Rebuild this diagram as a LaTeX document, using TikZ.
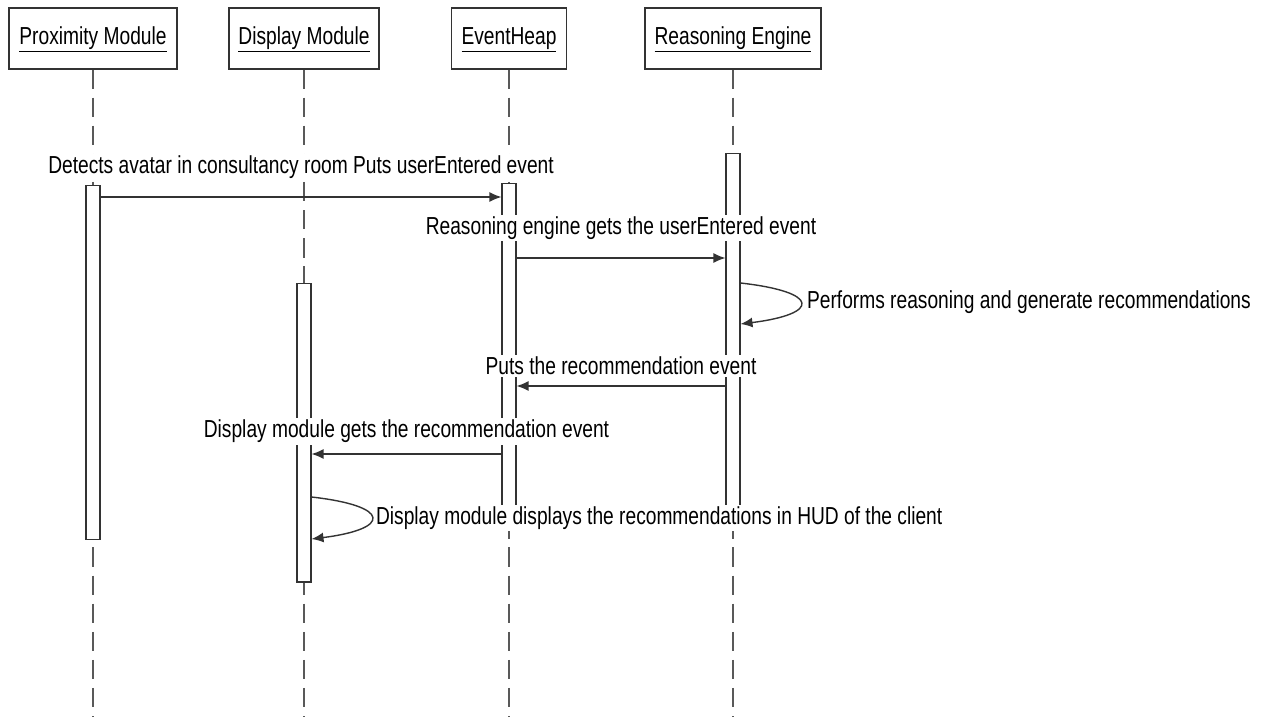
\documentclass[tikz,border=0pt]{standalone}
\usepackage{fontspec}
\setmainfont[FakeStretch=0.78]{Liberation Sans}
\usepackage{xcolor}
\usetikzlibrary{arrows.meta,positioning,calc}

\begin{document}
\begin{tikzpicture}[
  x=0.02cm, y=-0.02cm,
  every node/.style={font=\fontsize{14}{16}\selectfont},
  actor/.style={draw=black!80, line width=0.6pt, fill=white, minimum height=1.22cm, inner sep=0pt, text height=0.95em, text depth=0.3em},
  bar/.style={draw=black!80, line width=0.6pt, fill=white, minimum width=0.28cm, inner sep=0pt},
  life/.style={draw=black!65, line width=0.6pt, dash pattern=on 11pt off 5pt},
  msg/.style={-{Latex[length=2.4mm,width=2mm]}, draw=black!80, line width=0.8pt},
  lbl/.style={fill=white, inner sep=1pt}
]
  \useasboundingbox (0,0) rectangle (1272,717);

  \node[actor, minimum width=3.36cm] (pm) at (93,38.5) {\underline{Proximity Module}};
  \node[actor, minimum width=3.0cm] (dm) at (304,38.5) {\underline{Display Module}};
  \node[actor, minimum width=2.3cm] (eh) at (509,38.5) {\underline{EventHeap}};
  \node[actor, minimum width=3.52cm] (re) at (733,38.5) {\underline{Reasoning Engine}};

  \coordinate (pmend) at (93,717);
  \coordinate (dmend) at (304,717);
  \coordinate (ehend) at (509,717);
  \coordinate (reend) at (733,717);
  \draw[life] (pm) -- (pmend);
  \draw[life] (dm) -- (dmend);
  \draw[life] (eh) -- (ehend);
  \draw[life] (re) -- (reend);

  \node[bar, minimum height=7.1cm] (pbar) at (93,362.5) {};
  \node[bar, minimum height=5.98cm] (dbar) at (304,432.5) {};
  \node[bar, minimum height=6.5cm] (ebar) at (509,345.5) {};
  \node[bar, minimum height=7.1cm] (rbar) at (733,330.5) {};

  \draw[msg] (pbar.east |- 0,197) -- node[lbl, midway, above=9pt] {Detects avatar in consultancy room Puts userEntered event} (ebar.west |- 0,197);
  \draw[msg] (ebar.east |- 0,258) -- node[lbl, midway, above=9pt] {Reasoning engine gets the userEntered event} (rbar.west |- 0,258);
  \draw[msg] (rbar.east |- 0,283) .. controls +(80,9) and +(80,-10) .. (rbar.east |- 0,324);
  \node[lbl, anchor=west] (selfre) at (805,302) {Performs reasoning and generate recommendations};
  \draw[msg] (rbar.west |- 0,386) -- node[lbl, midway, above=5pt] {Puts the recommendation event} (ebar.east |- 0,386);
  \draw[msg] (ebar.west |- 0,454) -- node[lbl, midway, above=5pt] {Display module gets the recommendation event} (dbar.east |- 0,454);
  \draw[msg] (dbar.east |- 0,497) .. controls +(80,9) and +(80,-10) .. (dbar.east |- 0,539);
  \node[lbl, anchor=west] (selfdm) at (374,518) {Display module displays the recommendations in HUD of the client};
\end{tikzpicture}
\end{document}
